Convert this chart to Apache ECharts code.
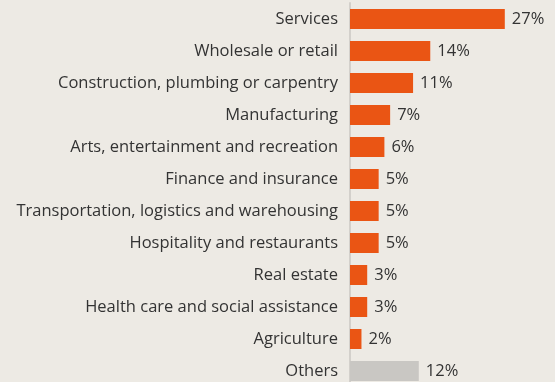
<!DOCTYPE html>
<html>
<head>
<meta charset="utf-8">
<script src="https://cdn.jsdelivr.net/npm/echarts@6/dist/echarts.min.js"></script>
<style>
  html, body { margin: 0; padding: 0; background: #edeae4; }
  #chart { width: 555px; height: 382px; }
</style>
</head>
<body>
<div id="chart"></div>
<script>
// Industry shares, top to bottom
const industries = [
  'Services',
  'Wholesale or retail',
  'Construction, plumbing or carpentry',
  'Manufacturing',
  'Arts, entertainment and recreation',
  'Finance and insurance',
  'Transportation, logistics and warehousing',
  'Hospitality and restaurants',
  'Real estate',
  'Health care and social assistance',
  'Agriculture',
  'Others'
];
const shares = [27, 14, 11, 7, 6, 5, 5, 5, 3, 3, 2, 12];
const otherLabel = 'Others';

const orange = '#ea5514';
const grey = '#c9c7c3';
const font = '"Open Sans", "Noto Sans", sans-serif';

const chart = echarts.init(document.getElementById('chart'));
chart.setOption({
  backgroundColor: '#edeae4',
  animation: false,
  grid: {
    left: 350, top: 3, width: 172, height: 384,
    containLabel: false,
    outerBoundsMode: 'none'
  },
  xAxis: {
    type: 'value', min: 0, max: 30,
    show: false
  },
  yAxis: {
    type: 'category',
    data: industries,
    inverse: true,
    axisLine: { show: true, lineStyle: { color: '#d3d0cb', width: 2 } },
    axisTick: { show: false },
    axisLabel: {
      margin: 12,
      color: '#333333',
      fontFamily: font,
      fontSize: 16.5
    }
  },
  series: [{
    type: 'bar',
    barWidth: 20,
    data: shares.map((v, i) => ({
      value: v,
      itemStyle: { color: industries[i] === otherLabel ? grey : orange }
    })),
    label: {
      show: true,
      position: 'right',
      distance: 7,
      formatter: p => p.value + '%',
      color: '#333333',
      fontFamily: font,
      fontSize: 16.5
    }
  }]
});
</script>
</body>
</html>
